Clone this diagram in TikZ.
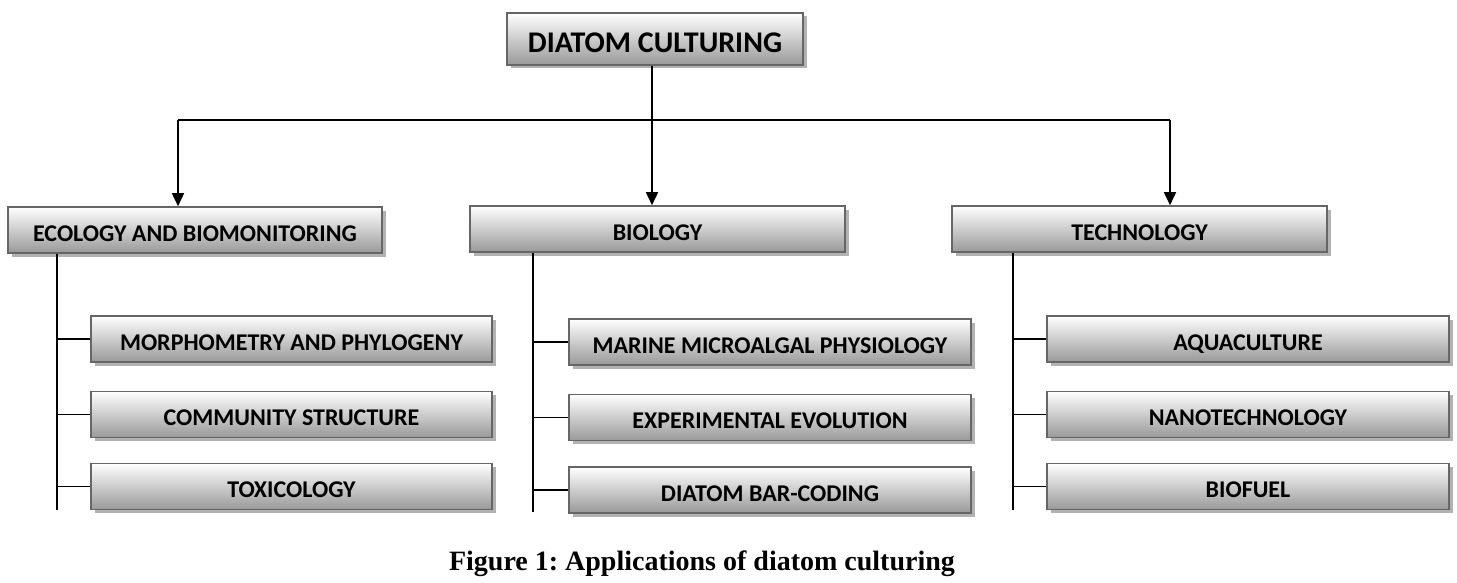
\documentclass[tikz,border=0pt]{standalone}
\usepackage{fontspec}
\setmainfont{Liberation Serif}
\newfontfamily\boxfont{Carlito}
\usetikzlibrary{shadows,arrows.meta}
\frenchspacing
\tikzset{
  gbox/.style={draw=black!60, line width=1.6pt, top color=white, bottom color=black!40,
    drop shadow={shadow xshift=3.5pt, shadow yshift=-3.5pt, fill=black!30, opacity=1},
    font=\boxfont\bfseries\fontsize{24}{26}\selectfont, inner sep=0pt, minimum height=46pt,
    text height=22pt, text depth=0pt},
  conn/.style={line width=1.6pt, black},
  arr/.style={conn, -{Triangle[length=13pt,width=12pt]}}
}
\begin{document}
\begin{tikzpicture}[x=1pt,y=-1pt]
\useasboundingbox (0,0) rectangle (1457,583);
% top
\node[gbox, minimum width=296pt, minimum height=52pt, text height=28pt, font=\boxfont\bfseries\fontsize{30}{32}\selectfont] (top) at (655,39) {DIATOM CULTURING};
% level 2
\node[gbox, minimum width=374pt] (eco) at (195,230) {ECOLOGY AND BIOMONITORING};
\node[gbox, minimum width=375pt] (bio) at (657.5,229) {BIOLOGY};
\node[gbox, minimum width=375pt] (tec) at (1139.5,229) {TECHNOLOGY};
% children
\node[gbox, minimum width=401pt] (e1) at (291.5,339) {MORPHOMETRY AND PHYLOGENY};
\node[gbox, minimum width=401pt] (e2) at (291.5,414.5) {COMMUNITY STRUCTURE};
\node[gbox, minimum width=401pt] (e3) at (291.5,486.5) {TOXICOLOGY};
\node[gbox, minimum width=402pt] (b1) at (770,342) {MARINE MICROALGAL PHYSIOLOGY};
\node[gbox, minimum width=402pt] (b2) at (770,417.5) {EXPERIMENTAL EVOLUTION};
\node[gbox, minimum width=402pt] (b3) at (770,490) {DIATOM BAR-CODING};
\node[gbox, minimum width=402pt] (t1) at (1248,339) {AQUACULTURE};
\node[gbox, minimum width=402pt] (t2) at (1248,414.5) {NANOTECHNOLOGY};
\node[gbox, minimum width=402pt] (t3) at (1248,486.5) {BIOFUEL};
% bus
\coordinate (hub) at (652,120);
\coordinate (a1) at (178,120);
\coordinate (a3) at (1170,120);
\draw[conn] (hub |- top.south) -- (hub);
\draw[conn] (a1) -- (a3);
\draw[arr] (a1) -- (a1 |- eco.north);
\draw[arr] (hub) -- (hub |- bio.north);
\draw[arr] (a3) -- (a3 |- tec.north);
% trunks
\coordinate (et) at (57,510);
\coordinate (bt) at (533,512);
\coordinate (tt) at (1013,510);
\draw[conn] (et |- eco.south) -- (et);
\draw[conn] (bt |- bio.south) -- (bt);
\draw[conn] (tt |- tec.south) -- (tt);
\foreach \c in {e1,e2,e3} \draw[conn] (et |- \c.west) -- (\c.west);
\foreach \c in {b1,b2,b3} \draw[conn] (bt |- \c.west) -- (\c.west);
\foreach \c in {t1,t2,t3} \draw[conn] (tt |- \c.west) -- (\c.west);
% caption
\node[font=\bfseries\fontsize{28}{32}\selectfont] (cap) at (702,564) {Figure 1: Applications of diatom culturing};
\end{tikzpicture}
\end{document}
